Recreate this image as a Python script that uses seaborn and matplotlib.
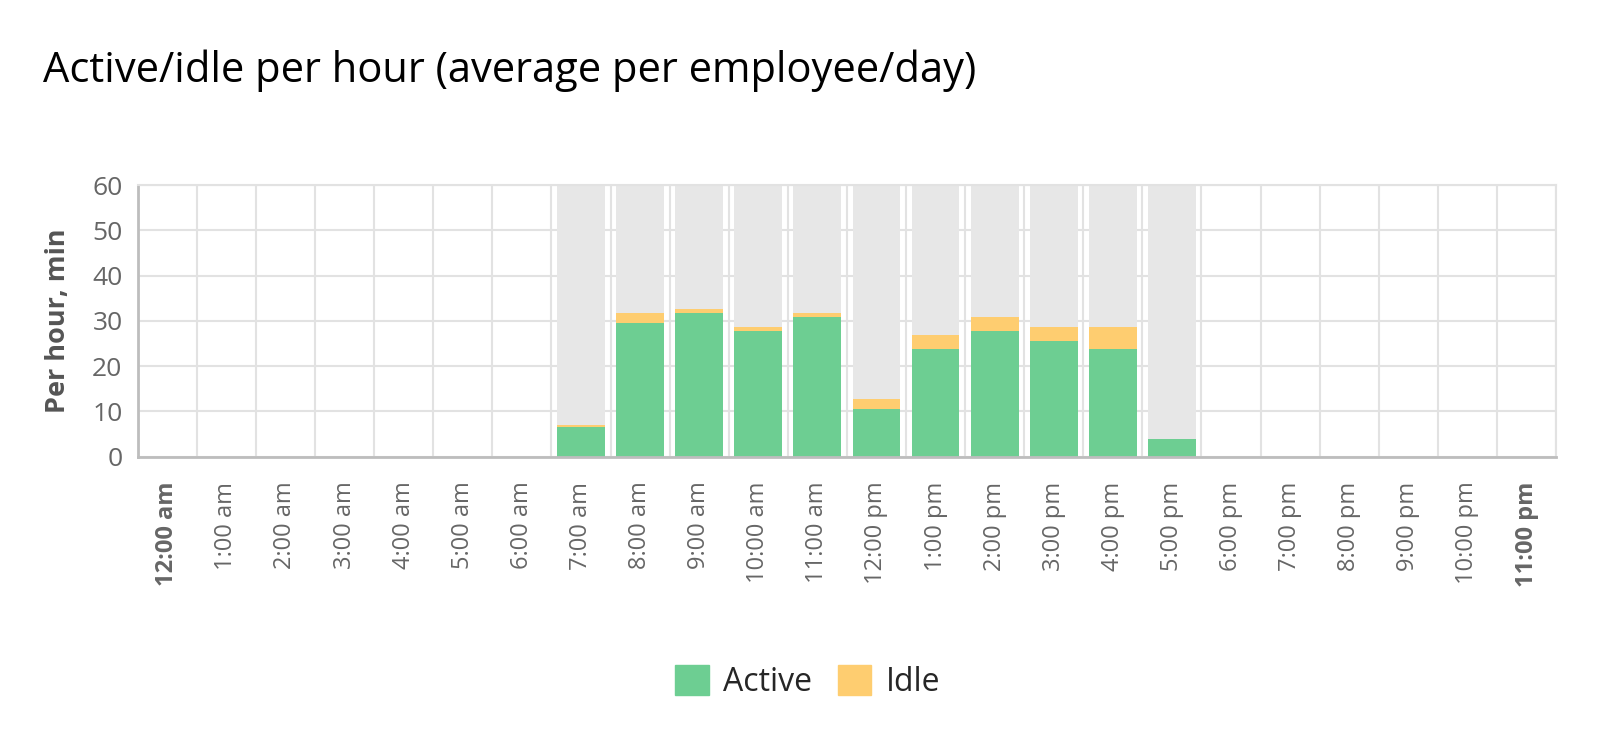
import numpy as np
import pandas as pd
import seaborn as sns
import matplotlib
matplotlib.use('Agg')
import matplotlib.pyplot as plt
from matplotlib.patches import Patch

hours = ['12:00 am', '1:00 am', '2:00 am', '3:00 am', '4:00 am', '5:00 am',
         '6:00 am', '7:00 am', '8:00 am', '9:00 am', '10:00 am', '11:00 am',
         '12:00 pm', '1:00 pm', '2:00 pm', '3:00 pm', '4:00 pm', '5:00 pm',
         '6:00 pm', '7:00 pm', '8:00 pm', '9:00 pm', '10:00 pm', '11:00 pm']
active = [0, 0, 0, 0, 0, 0, 0, 6.6, 29.6, 31.8, 27.8, 30.9,
          10.6, 23.8, 27.8, 25.6, 23.8, 4.0, 0, 0, 0, 0, 0, 0]
idle = [0, 0, 0, 0, 0, 0, 0, 0.5, 2.2, 0.9, 0.9, 0.9,
        2.2, 3.1, 3.1, 3.1, 4.9, 0, 0, 0, 0, 0, 0, 0]
# working hours shown as grey 60-min columns
work_hour = [0, 0, 0, 0, 0, 0, 0, 60, 60, 60, 60, 60,
             60, 60, 60, 60, 60, 60, 0, 0, 0, 0, 0, 0]

GREEN = '#6dce92'
YELLOW = '#fecd70'
GREY = '#e7e7e7'
GRID = '#e2e2e2'


def main():
    sns.set_theme(style='white')
    plt.rcParams['font.family'] = ['Open Sans', 'DejaVu Sans']

    df = pd.DataFrame({'hour': hours, 'active': active, 'idle': idle, 'work': work_hour})
    df['total'] = df['active'] + df['idle']

    fig = plt.figure(figsize=(16.15, 7.31), dpi=100)
    ax = fig.add_axes([0.0853, 0.3752, 0.9635 - 0.0853, 0.7469 - 0.3752])

    bar_kw = dict(x='hour', order=hours, width=0.81, saturation=1, ax=ax, linewidth=0)
    sns.barplot(data=df, y='work', color=GREY, **bar_kw)
    sns.barplot(data=df, y='total', color=YELLOW, **bar_kw)
    sns.barplot(data=df, y='active', color=GREEN, **bar_kw)

    ax.set_xlim(-0.5, len(hours) - 0.5)
    ax.set_ylim(0, 60)
    ax.set_yticks(range(0, 61, 10))
    ax.set_xticks(np.arange(-0.5, len(hours)), minor=True)
    ax.set_axisbelow(True)
    ax.grid(axis='y', which='major', color=GRID, linewidth=1.5)
    ax.grid(axis='x', which='minor', color=GRID, linewidth=1.5)
    ax.grid(axis='x', which='major', visible=False)

    for side in ['top', 'right']:
        ax.spines[side].set_color(GRID)
        ax.spines[side].set_linewidth(1.5)
    for side in ['left', 'bottom']:
        ax.spines[side].set_color('#bdbdbd')
        ax.spines[side].set_linewidth(2)

    ax.tick_params(axis='both', which='both', length=0)
    ax.tick_params(axis='y', labelsize=19, labelcolor='#666666', pad=11)
    ax.tick_params(axis='x', labelsize=17, labelcolor='#666666', pad=18)
    ax.set_xticks(range(len(hours)))
    ax.set_xticklabels(hours, rotation=90)
    ticklabels = ax.get_xticklabels()
    ticklabels[0].set_fontweight('bold')
    ticklabels[-1].set_fontweight('bold')

    ax.set_xlabel('')
    ax.set_ylabel('Per hour, min', fontsize=19.5, fontweight='bold', color='#555555', labelpad=15)

    fig.text(43 / 1615, 1 - 82 / 731, 'Active/idle per hour (average per employee/day)',
             fontsize=30, color='#000000', ha='left', va='baseline')

    handles = [Patch(color=GREEN, label='Active'), Patch(color=YELLOW, label='Idle')]
    fig.legend(handles=handles, loc='center', bbox_to_anchor=(0.5, 1 - 682 / 731), ncol=2,
               frameon=False, fontsize=23, handlelength=1.05, handleheight=1.05,
               handletextpad=0.45, columnspacing=0.8)

    fig.savefig('out.png', dpi=100, facecolor='white')


if __name__ == '__main__':
    main()
